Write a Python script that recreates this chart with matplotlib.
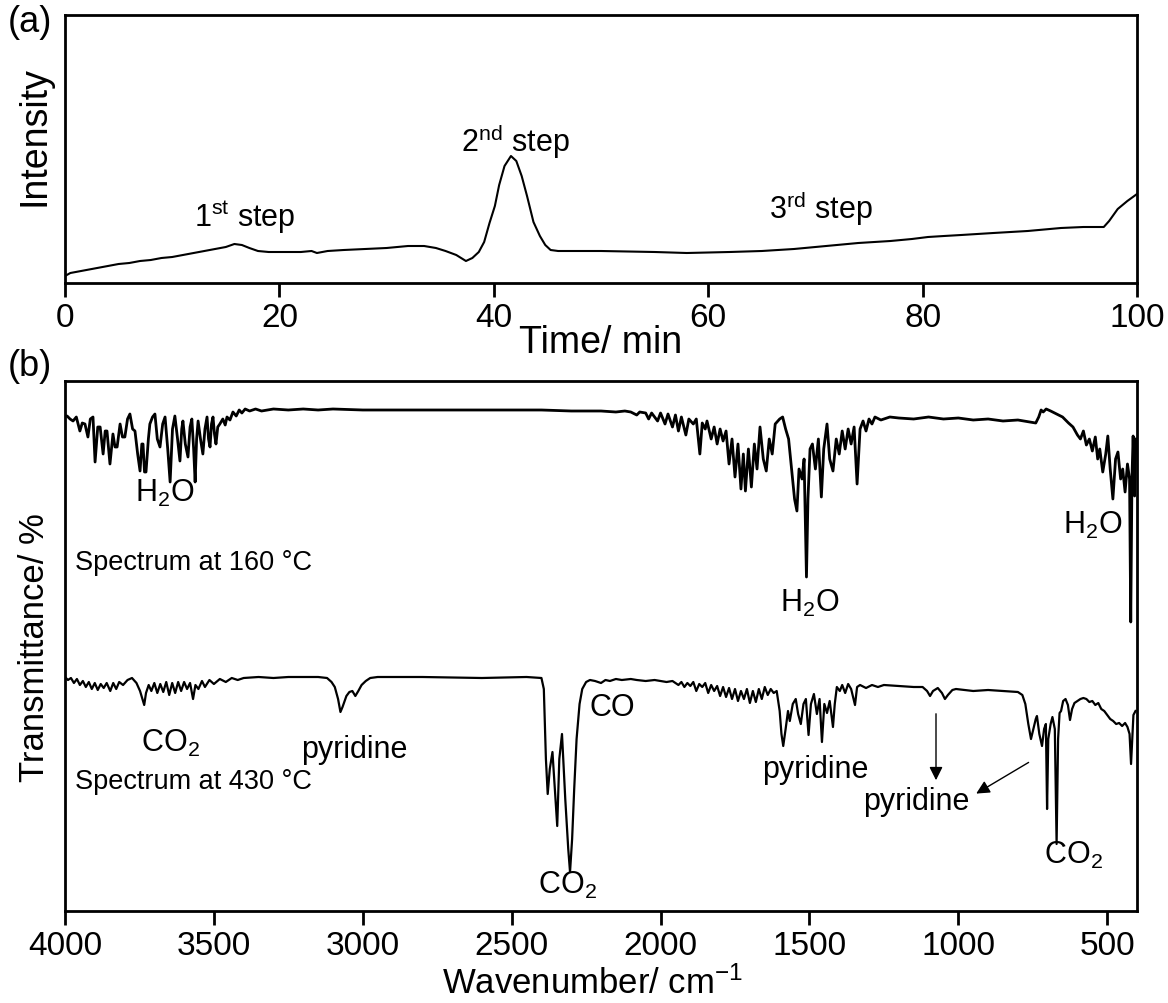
import matplotlib
matplotlib.use("Agg")
import matplotlib.pyplot as plt
import numpy as np

plt.rcParams['font.family'] = ['Liberation Sans', 'DejaVu Sans']
plt.rcParams['mathtext.fontset'] = 'custom'
plt.rcParams['mathtext.rm'] = 'Liberation Sans'
plt.rcParams['mathtext.it'] = 'Liberation Sans'

# (a) evolved gas intensity vs time
time_min = [0, 0.5, 1, 2, 3, 4, 5, 6, 7, 8, 9, 10, 11, 12, 13, 14, 15, 15.8, 16.5, 17.2,
            18, 19, 20, 21, 22, 23, 23.5, 24.5, 26, 28, 30, 32, 33.5, 34.6, 35.5, 36.5,
            37.4, 38, 38.6, 39.1, 39.6, 40.1, 40.5, 41, 41.6, 42.1, 42.6, 43.1, 43.7,
            44.3, 44.8, 45.3, 46, 50, 55, 58, 62, 65, 68, 71, 74, 77, 79, 80.5, 82, 83.6,
            86.6, 89.8, 92.9, 95, 96.9, 97.4, 98.2, 99.1, 100]
intensity = [7, 10, 11, 13, 15, 17, 19, 20, 22, 23, 25, 26, 28, 30, 32, 34, 36, 39, 38, 35,
             32, 31, 31, 31, 31, 32, 30, 32, 33, 34, 35, 37, 37, 35, 32, 28,
             22, 25, 31, 41, 60, 77, 98, 117, 127, 122, 107, 87, 61,
             47, 38, 33, 32, 32, 31, 30, 31, 32, 34, 37, 40, 42, 44, 46, 47, 48,
             50, 52, 55, 56, 56, 62, 74, 82, 89]
time_ticks = [0, 20, 40, 60, 80, 100]

# (b) FTIR spectrum at 160 C
wn_160 = [4000, 3993, 3983, 3973, 3962, 3950, 3942, 3933, 3923, 3915, 3906, 3899, 3890, 3882,
          3872, 3865, 3859, 3849, 3839, 3832, 3825, 3815, 3807, 3799, 3790, 3782, 3773, 3765,
          3756, 3748, 3742, 3738, 3733, 3728, 3720, 3715, 3706, 3698, 3690, 3681, 3672, 3664,
          3655, 3647, 3639, 3631, 3622, 3614, 3608, 3604, 3596, 3587, 3580, 3574, 3568, 3563,
          3558, 3553, 3545, 3537, 3530, 3523, 3518, 3513, 3508, 3503, 3498, 3493, 3487, 3480,
          3470, 3462, 3456, 3446, 3436, 3425, 3415, 3406, 3395, 3380, 3360, 3340, 3300, 3250,
          3200, 3150, 3100, 3000, 2900, 2800, 2700, 2600, 2500, 2400, 2300, 2200, 2150, 2120,
          2100, 2080, 2070, 2050, 2040, 2030, 2010, 2000, 1985, 1975, 1960, 1950, 1940, 1930,
          1915, 1905, 1890, 1880, 1868, 1860, 1850, 1844, 1830, 1820, 1810, 1800, 1790, 1780,
          1770, 1760, 1750, 1740, 1730, 1722, 1715, 1705, 1695, 1685, 1676, 1666, 1655, 1645,
          1635, 1625, 1615, 1600, 1590, 1580, 1570, 1560, 1550, 1542, 1535, 1525, 1518, 1510,
          1505, 1498, 1490, 1480, 1470, 1460, 1452, 1441, 1432, 1421, 1410, 1400, 1390, 1380,
          1370, 1360, 1350, 1340, 1330, 1320, 1310, 1300, 1290, 1280, 1260, 1230, 1200, 1150,
          1100, 1050, 1000, 950, 900, 850, 800, 760, 740, 730, 722, 715, 705, 690, 670, 650,
          630, 615, 600, 590, 580, 570, 560, 550, 540, 532, 525, 515, 505, 498, 490, 481, 472,
          464, 455, 448, 440, 432, 425, 421, 417, 413, 408, 404]
tr_160 = [495, 495, 492, 490, 494, 480, 488, 487, 474, 492, 494, 449, 484, 484,
          457, 480, 480, 447, 477, 464, 464, 487, 474, 474, 492, 497, 482, 480,
          457, 440, 467, 467, 439, 439, 472, 487, 494, 497, 472, 464, 487, 494,
          462, 429, 482, 495, 472, 450, 482, 490, 467, 454, 484, 492, 462, 429,
          472, 490, 472, 457, 482, 494, 472, 464, 487, 494, 477, 467, 484, 487,
          492, 486, 494, 491, 499, 495, 501, 498, 502, 500, 502, 500, 502, 501,
          502, 501, 502, 501, 501, 501, 501, 501, 501, 501, 500, 500, 499, 500,
          499, 496, 499, 498, 492, 498, 490, 498, 487, 497, 484, 496, 480, 494,
          476, 492, 487, 492, 457, 488, 482, 490, 472, 484, 467, 482, 470, 480,
          447, 472, 434, 467, 422, 457, 420, 462, 424, 467, 442, 484, 452, 440,
          472, 457, 487, 492, 494, 482, 472, 442, 412, 400, 442, 432, 452, 334,
          412, 462, 467, 442, 472, 414, 462, 487, 452, 440, 472, 457, 480, 462,
          482, 467, 484, 427, 482, 490, 480, 492, 487, 494, 491, 494, 493, 492,
          494, 492, 493, 491, 492, 490, 491, 489, 488, 494, 501, 499, 502, 500, 497, 494,
          488, 484, 476, 472, 480, 466, 472, 460, 474, 452, 462, 439, 457, 475, 442, 412, 452,
          459, 432, 442, 419, 447, 432, 289, 432, 475, 415, 472]

# (b) FTIR spectrum at 430 C
wn_430 = [4000, 3990, 3980, 3970, 3960, 3950, 3940, 3930, 3920, 3910, 3900, 3890, 3880, 3870,
          3860, 3848, 3838, 3828, 3818, 3805, 3790, 3775, 3760, 3748, 3740, 3734, 3728, 3719,
          3710, 3700, 3690, 3680, 3670, 3660, 3650, 3640, 3630, 3620, 3610, 3600, 3590, 3580,
          3570, 3562, 3552, 3540, 3530, 3515, 3500, 3480, 3460, 3440, 3420, 3400, 3350, 3300,
          3250, 3200, 3150, 3120, 3105, 3094, 3083, 3075, 3068, 3055, 3045, 3035, 3025, 3015,
          3004, 2990, 2975, 2950, 2800, 2600, 2450, 2400, 2392, 2385, 2379, 2372, 2363, 2355,
          2347, 2340, 2331, 2320, 2310, 2304, 2297, 2290, 2282, 2272, 2263, 2250, 2237, 2220,
          2200, 2185, 2170, 2150, 2130, 2100, 2080, 2050, 2020, 2000, 1980, 1960, 1940, 1930,
          1920, 1910, 1900, 1890, 1880, 1870, 1860, 1850, 1840, 1830, 1820, 1810, 1800, 1790,
          1780, 1770, 1760, 1750, 1740, 1730, 1720, 1710, 1700, 1690, 1680, 1670, 1660, 1650,
          1640, 1630, 1620, 1610, 1600, 1594, 1588, 1580, 1572, 1566, 1556, 1546, 1538, 1529,
          1520, 1512, 1503, 1495, 1485, 1475, 1466, 1458, 1450, 1441, 1432, 1421, 1415, 1408,
          1398, 1390, 1380, 1370, 1360, 1347, 1340, 1330, 1310, 1290, 1270, 1250, 1200, 1150,
          1120, 1105, 1095, 1085, 1069, 1055, 1045, 1035, 1020, 1008, 980, 950, 900, 850, 800,
          785, 775, 765, 756, 748, 740, 736, 728, 719, 712, 706, 702, 698, 690, 684, 676, 670,
          665, 660, 655, 648, 640, 632, 625, 618, 610, 600, 590, 580, 570, 560, 550, 540, 530,
          520, 510, 500, 490, 480, 470, 460, 450, 440, 432, 425, 420, 416, 412, 405]
tr_430 = [234, 231, 233, 228, 232, 226, 230, 224, 229, 222, 228, 221, 227, 223,
          228, 220, 228, 222, 229, 226, 231, 233, 228, 220, 212, 206, 218, 226,
          220, 228, 218, 227, 219, 229, 216, 228, 218, 229, 220, 229, 222, 228,
          212, 226, 222, 230, 224, 231, 227, 232, 229, 233, 231, 233, 234, 233,
          234, 234, 234, 233, 229, 224, 212, 199, 204, 215, 219, 220, 215, 220,
          226, 230, 233, 234, 234, 233, 234, 233, 222, 152, 117, 142, 159, 122,
          85, 152, 177, 112, 62, 39, 72, 122, 172, 207, 222, 229, 231, 230,
          228, 231, 230, 232, 231, 232, 231, 230, 231, 230, 229, 230, 226, 229,
          224, 228, 225, 229, 220, 227, 224, 228, 218, 226, 220, 225, 215, 224,
          214, 223, 212, 222, 210, 220, 212, 222, 208, 220, 209, 222, 212, 224,
          216, 222, 218, 220, 200, 177, 165, 182, 200, 190, 207, 212, 197, 187,
          207, 212, 176, 207, 217, 197, 212, 169, 207, 198, 210, 184, 207, 224,
          220, 226, 218, 227, 222, 206, 224, 226, 223, 226, 224, 226, 225, 224,
          224, 220, 215, 220, 223, 218, 212, 216, 221, 222, 221, 220, 221, 220, 219,
          216, 207, 187, 172, 182, 192, 195, 177, 165, 182, 187, 102, 172, 187, 194, 182, 67,
          172, 198, 200, 210, 212, 206, 191, 202, 208, 210, 212, 213, 212, 209, 210, 206, 208,
          202, 200, 196, 192, 190, 187, 188, 185, 188, 184, 177, 147, 172, 196, 200]
wn_ticks = [4000, 3500, 3000, 2500, 2000, 1500, 1000, 500]

W, H = 1168, 1004
fig = plt.figure(figsize=(W / 100, H / 100), dpi=100)


def style_axes(ax):
    for sp in ax.spines.values():
        sp.set_linewidth(2.0)
    ax.tick_params(axis='x', direction='out', length=10, width=2.0, labelsize=24,
                   pad=4, top=False)
    ax.tick_params(axis='y', left=False, right=False, labelleft=False)


# panel (a)
ax1 = fig.add_axes([65 / W, 1 - 284 / H, 1072 / W, 268 / H])
ax1.plot(time_min, intensity, color='black', lw=1.5)
ax1.set_xlim(0, 100)
ax1.set_ylim(0, 268)
ax1.set_xticks(time_ticks)
style_axes(ax1)
ax1.text(16.8, 67, "1$^{\\rm st}$ step", fontsize=22, ha='center', va='center')
ax1.text(42, 142, "2$^{\\rm nd}$ step", fontsize=22, ha='center', va='center')
ax1.text(70.5, 75, "3$^{\\rm rd}$ step", fontsize=22, ha='center', va='center')
fig.text(601 / W, 1 - 343 / H, "Time/ min", fontsize=27, ha='center', va='center')
fig.text(35 / W, 1 - 136 / H, "Intensity", fontsize=27, ha='center', va='center',
         rotation=90)
fig.text(8 / W, 1 - 22 / H, "(a)", fontsize=26, ha='left', va='center')

# panel (b)
ax2 = fig.add_axes([65 / W, 1 - 912 / H, 1072 / W, 530 / H])
ax2.plot(wn_160, tr_160, color='black', lw=2.0)
ax2.plot(wn_430, tr_430, color='black', lw=1.6)
ax2.set_xlim(4000, 400)
ax2.set_ylim(0, 530)
ax2.set_xticks(wn_ticks)
style_axes(ax2)

lab = dict(fontsize=22, ha='center', va='center')
ax2.text(3664, 419, "H$_2$O", **lab)
ax2.text(1498, 309, "H$_2$O", **lab)
ax2.text(548, 387, "H$_2$O", **lab)
ax2.text(3966, 349, "Spectrum at 160 °C", fontsize=19.5, ha='left', va='center')
ax2.text(3647, 169, "CO$_2$", **lab)
ax2.text(3030, 162, "pyridine", **lab)
ax2.text(2163, 204, "CO", **lab)
ax2.text(2311, 27, "CO$_2$", **lab)
ax2.text(1482, 142, "pyridine", **lab)
ax2.text(1142, 110, "pyridine", **lab)
ax2.text(615, 57, "CO$_2$", **lab)
ax2.text(3966, 130, "Spectrum at 430 °C", fontsize=19.5, ha='left', va='center')

arrow = dict(arrowstyle='-|>', color='black', lw=1.0, mutation_scale=20)
ax2.annotate("", xy=(1075, 128), xytext=(1075, 200), arrowprops=arrow)
ax2.annotate("", xy=(948, 116), xytext=(756, 150), arrowprops=arrow)

fig.text(593 / W, 1 - 984 / H, "Wavenumber/ cm$^{-1}$", fontsize=25, ha='center',
         va='center')
fig.text(35 / W, 1 - 648 / H, "Transmittance/ %", fontsize=25, ha='center',
         va='center', rotation=90)
fig.text(8 / W, 1 - 366 / H, "(b)", fontsize=26, ha='left', va='center')

fig.savefig("out.png", dpi=100)
